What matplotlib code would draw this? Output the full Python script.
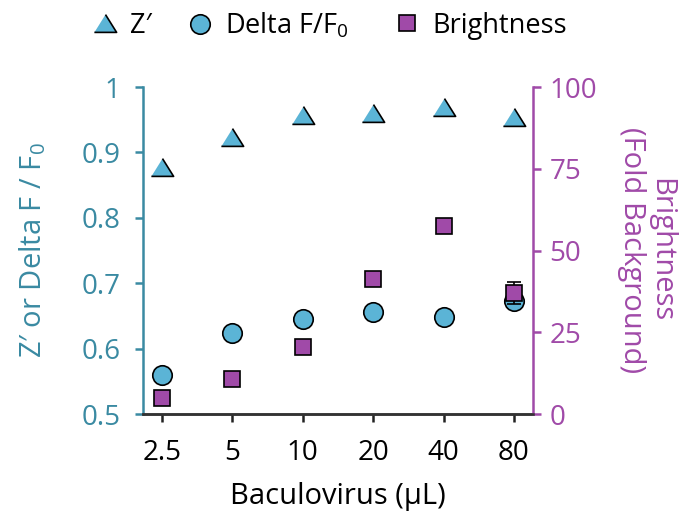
import matplotlib.pyplot as plt
from matplotlib.lines import Line2D

plt.rcParams['font.family'] = ['Open Sans', 'DejaVu Sans']

doses = ["2.5", "5", "10", "20", "40", "80"]
z_prime = [0.877, 0.924, 0.957, 0.960, 0.969, 0.954]
delta_f = [0.560, 0.624, 0.645, 0.656, 0.648, 0.673]
brightness = [4.9, 10.7, 20.5, 41.3, 57.5, 37.0]
brightness_err = [0, 0, 0, 0, 0, 3.5]

teal = "#3a8aa2"
blue = "#5bb4d6"
purple = "#a04aa8"
tri = [(-1, -0.8), (1, -0.8), (0, 0.8)]

fig = plt.figure(figsize=(6.89, 5.12), dpi=100)
ax = fig.add_axes([0.2075, 0.1914, 0.566, 0.6386])
ax2 = ax.twinx()

x = list(range(len(doses)))
ax.plot(x, z_prime, linestyle="none", marker=tri, markersize=16,
        markerfacecolor=blue, markeredgecolor="black", markeredgewidth=1.2, zorder=3)
ax.plot(x, delta_f, linestyle="none", marker="o", markersize=14,
        markerfacecolor=blue, markeredgecolor="black", markeredgewidth=1.2, zorder=3)
ax2.errorbar(x, brightness, yerr=brightness_err, fmt="none", ecolor="black",
             elinewidth=1.2, capsize=5, capthick=1.2, zorder=3)
ax2.plot(x, brightness, linestyle="none", marker="s", markersize=11.5,
         markerfacecolor=purple, markeredgecolor="black", markeredgewidth=1.2, zorder=4)

ax.set_xlim(-0.27, 5.27)
ax.set_ylim(0.5, 1.0)
ax2.set_ylim(0, 100)
ax.set_xticks(x)
ax.set_xticklabels(doses)
ax.set_yticks([0.5, 0.6, 0.7, 0.8, 0.9, 1.0])
ax.set_yticklabels(["0.5", "0.6", "0.7", "0.8", "0.9", "1"])
ax2.set_yticks([0, 25, 50, 75, 100])

for a in (ax, ax2):
    a.spines["top"].set_visible(False)
    a.spines["bottom"].set_color("#333333")
    a.spines["bottom"].set_linewidth(1.8)
ax.spines["right"].set_visible(False)
ax2.spines["left"].set_visible(False)
ax.spines["left"].set_color(teal)
ax.spines["left"].set_linewidth(1.8)
ax2.spines["right"].set_color(purple)
ax2.spines["right"].set_linewidth(1.8)

ax.tick_params(axis="x", colors="#222222", labelcolor="black", labelsize=20,
               length=6, width=1.8, pad=12)
ax.tick_params(axis="y", colors=teal, labelsize=20, length=6, width=1.8, pad=10)
ax2.tick_params(axis="y", colors=purple, labelsize=20, length=6, width=1.8, pad=6)

ax.set_xlabel("Baculovirus (µL)", fontsize=21, labelpad=11)
ax.set_ylabel("Z′ or Delta F / F$\\mathregular{_0}$", fontsize=21, color=teal, labelpad=24)
ax2.set_ylabel("Brightness\n(Fold Background)", fontsize=21, color=purple,
               rotation=270, labelpad=56, linespacing=1.0)

# legend: one entry per call so each sits where it does in the original
entries = [
    (Line2D([], [], linestyle="none", marker=tri, markersize=16, markerfacecolor=blue,
            markeredgecolor="black", markeredgewidth=1.2), "Z′", 0.1328),
    (Line2D([], [], linestyle="none", marker="o", markersize=14, markerfacecolor=blue,
            markeredgecolor="black", markeredgewidth=1.2), "Delta F/F$\\mathregular{_0}$", 0.2707),
    (Line2D([], [], linestyle="none", marker="s", markersize=11.5, markerfacecolor=purple,
            markeredgecolor="black", markeredgewidth=1.2), "Brightness", 0.571),
]
for h, lab, xpos in entries:
    fig.legend([h], [lab], loc="center left", bbox_to_anchor=(xpos, 0.95),
               frameon=False, fontsize=19.5, handlelength=1.0, handletextpad=0.42,
               borderpad=0, borderaxespad=0)

fig.savefig("out.png", dpi=100)
